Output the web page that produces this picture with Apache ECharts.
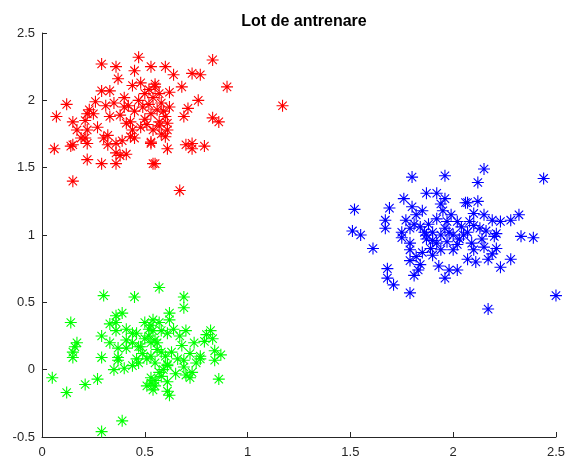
<!DOCTYPE html>
<html>
<head>
<meta charset="utf-8">
<script src="https://cdn.jsdelivr.net/npm/echarts@6/dist/echarts.min.js"></script>
<style>
  html, body { margin: 0; padding: 0; background: #fff; }
  #chart { width: 568px; height: 461px; }
</style>
</head>
<body>
<div id="chart"></div>
<script>
// Training set: three point clouds
const titleText = 'Lot de antrenare';

const xTicks = [0, 0.5, 1, 1.5, 2, 2.5];
const yTicks = [-0.5, 0, 0.5, 1, 1.5, 2, 2.5];

const redPoints = [
  [0.47,2.32],[0.29,2.27],[0.36,2.25],[0.53,2.25],[0.45,2.22],[0.83,2.30],[0.60,2.25],[0.64,2.19],
  [0.73,2.20],[0.77,2.19],[0.37,2.16],[0.44,2.11],[0.48,2.13],[0.68,2.10],[0.90,2.10],[0.29,2.07],
  [0.33,2.07],[0.12,1.97],[0.26,1.99],[0.31,1.96],[0.07,1.88],[0.23,1.93],[0.22,1.90],[0.15,1.84],
  [0.21,1.85],[0.40,1.95],[0.38,1.89],[0.43,1.84],[0.76,2.00],[0.71,1.94],[0.69,1.88],[0.59,1.92],
  [0.83,1.87],[0.86,1.84],[1.17,1.96],[0.61,1.83],[0.57,1.84],[0.17,1.78],[0.22,1.78],[0.22,1.68],
  [0.21,1.72],[0.06,1.64],[0.14,1.66],[0.15,1.67],[0.22,1.56],[0.29,1.53],[0.36,1.53],[0.15,1.40],
  [0.54,1.53],[0.32,1.74],[0.32,1.67],[0.36,1.68],[0.39,1.70],[0.36,1.61],[0.41,1.60],[0.38,1.59],
  [0.41,1.83],[0.44,1.78],[0.43,1.73],[0.45,1.72],[0.53,1.69],[0.53,1.68],[0.54,1.78],[0.60,1.73],
  [0.61,1.64],[0.70,1.67],[0.73,1.68],[0.73,1.64],[0.79,1.66],[0.55,1.53],[0.67,1.33],[0.57,1.81],
  [0.61,1.78],[0.50,2.05],[0.52,2.08],[0.54,2.02],[0.55,2.10],[0.57,2.05],[0.52,1.97],[0.49,1.95],
  [0.56,1.93],[0.58,1.98],[0.53,1.90],[0.50,1.86],[0.60,1.88],[0.47,2.00],[0.45,1.92],[0.62,1.95],
  [0.55,2.12],[0.51,1.82],[0.58,1.75],[0.48,1.80],[0.42,1.96],[0.40,2.02],[0.35,1.98],[0.33,1.88],
  [0.27,1.80],[0.19,1.72],[0.25,1.90],[0.30,1.72],[0.62,2.06]
];

const bluePoints = [
  [1.80,1.43],[1.96,1.44],[1.87,1.31],[1.92,1.31],[1.96,1.27],[1.76,1.27],[1.80,1.21],[1.85,1.18],
  [1.52,1.19],[1.69,1.20],[1.67,1.11],[1.67,1.05],[1.77,1.11],[1.82,1.15],[1.81,1.08],[1.84,1.06],
  [1.51,1.03],[1.55,1.00],[1.75,1.02],[1.79,1.05],[1.94,1.23],[1.95,1.18],[1.90,1.02],[1.87,1.00],
  [1.96,1.05],[2.15,1.49],[2.12,1.39],[2.44,1.42],[2.06,1.24],[2.07,1.24],[2.12,1.25],[2.10,1.16],
  [1.99,1.15],[2.15,1.15],[2.19,1.11],[2.23,1.10],[2.28,1.11],[2.32,1.15],[2.02,1.10],[2.04,1.06],
  [2.10,1.07],[2.13,1.05],[2.16,1.03],[2.21,1.01],[1.98,1.02],[2.33,0.99],[2.39,0.98],[2.07,1.02],
  [1.61,0.90],[1.75,0.98],[1.79,0.94],[1.79,0.89],[1.87,0.97],[1.92,0.94],[1.97,0.95],[1.85,0.87],
  [1.90,0.85],[1.94,0.89],[1.79,0.81],[1.68,0.75],[1.68,0.68],[1.71,0.63],[1.84,0.78],[1.83,0.74],
  [1.81,0.70],[1.93,0.77],[1.96,0.68],[1.79,0.57],[1.82,0.84],[1.89,0.90],[2.03,0.97],[2.09,0.94],
  [2.14,0.97],[2.20,0.99],[2.00,0.89],[2.10,0.89],[2.15,0.91],[2.21,0.90],[2.19,0.86],[2.07,0.82],
  [2.11,0.80],[2.17,0.82],[2.28,0.82],[2.23,0.76],[1.98,0.74],[2.02,0.74],[2.50,0.55],[2.17,0.45],
  [1.88,1.08],[1.92,1.12],[1.86,1.02],[2.00,1.00],[2.02,0.93],[1.94,1.00],[1.90,0.96],[2.05,1.00],
  [2.08,1.10],[1.97,1.10]
];

const greenPoints = [
  [0.30,0.55],[0.45,0.54],[0.14,0.35],[0.36,0.40],[0.39,0.42],[0.33,0.34],[0.36,0.35],[0.36,0.29],
  [0.41,0.30],[0.46,0.27],[0.29,0.25],[0.33,0.20],[0.17,0.20],[0.16,0.17],[0.15,0.13],[0.15,0.09],
  [0.37,0.16],[0.41,0.22],[0.41,0.16],[0.44,0.20],[0.47,0.17],[0.29,0.09],[0.37,0.09],[0.57,0.61],
  [0.69,0.54],[0.69,0.46],[0.62,0.42],[0.62,0.37],[0.54,0.37],[0.53,0.33],[0.54,0.29],[0.58,0.29],
  [0.64,0.30],[0.70,0.29],[0.82,0.29],[0.83,0.23],[0.74,0.20],[0.67,0.25],[0.61,0.27],[0.44,0.27],
  [0.50,0.23],[0.53,0.20],[0.56,0.20],[0.68,0.18],[0.48,0.17],[0.58,0.13],[0.63,0.13],[0.72,0.12],
  [0.77,0.10],[0.84,0.14],[0.87,0.11],[0.51,0.08],[0.37,0.07],[0.46,0.08],[0.55,0.05],[0.61,0.04],
  [0.69,0.07],[0.77,0.08],[0.84,0.07],[0.05,-0.06],[0.12,-0.17],[0.21,-0.11],[0.27,-0.07],[0.35,0.00],
  [0.40,0.01],[0.44,0.03],[0.53,-0.06],[0.51,-0.12],[0.54,-0.15],[0.55,-0.12],[0.57,-0.02],[0.59,0.00],
  [0.61,0.03],[0.61,-0.09],[0.61,-0.16],[0.62,-0.19],[0.65,-0.03],[0.69,0.02],[0.70,-0.04],[0.72,-0.06],
  [0.73,-0.02],[0.86,-0.07],[0.39,-0.38],[0.29,-0.46],[0.52,0.25],[0.55,0.22],[0.50,0.35],[0.52,0.30],
  [0.56,0.15],[0.53,0.10],[0.57,0.35],[0.49,0.12],[0.60,0.10],[0.47,0.05],[0.58,-0.05],[0.55,-0.08],
  [0.53,-0.10],[0.75,0.05],[0.66,0.08],[0.79,0.21],[0.80,0.26]
];

// eight-armed asterisk marker, drawn by stroke only
const asterisk = 'path://M0,-1L0,1M-1,0L1,0M-0.7,-0.7L0.7,0.7M-0.7,0.7L0.7,-0.7';

function cloud(name, data, color) {
  return {
    name: name,
    type: 'scatter',
    data: data,
    symbol: asterisk,
    symbolSize: 12,
    itemStyle: { color: color, borderColor: color, borderWidth: 1.1, opacity: 1 },
    emphasis: { disabled: true },
    animation: false
  };
}

const axisColor = '#262626';
const labelStyle = { color: axisColor, fontSize: 13, fontFamily: 'Liberation Sans, Arial, sans-serif' };

const chart = echarts.init(document.getElementById('chart'), null, { renderer: 'canvas' });
chart.setOption({
  animation: false,
  backgroundColor: '#ffffff',
  title: {
    text: titleText,
    left: 299,
    textAlign: 'center',
    top: 9,
    textStyle: { fontSize: 16, fontWeight: 'bold', color: '#000', fontFamily: 'Liberation Sans, Arial, sans-serif' }
  },
  grid: { left: 42, right: 12, top: 33, bottom: 24, containLabel: false },
  xAxis: {
    type: 'value',
    min: xTicks[0],
    max: xTicks[xTicks.length - 1],
    interval: xTicks[1] - xTicks[0],
    axisLine: { show: true, onZero: false, lineStyle: { color: axisColor, width: 1 } },
    axisTick: { show: true, inside: true, length: 5, lineStyle: { color: axisColor } },
    splitLine: { show: false },
    axisLabel: Object.assign({ margin: 9 }, labelStyle)
  },
  yAxis: {
    type: 'value',
    min: yTicks[0],
    max: yTicks[yTicks.length - 1],
    interval: yTicks[1] - yTicks[0],
    axisLine: { show: true, onZero: false, lineStyle: { color: axisColor, width: 1 } },
    axisTick: { show: true, inside: true, length: 5, lineStyle: { color: axisColor } },
    splitLine: { show: false },
    axisLabel: Object.assign({ margin: 7 }, labelStyle)
  },
  series: [
    cloud('red', redPoints, '#ff0000'),
    cloud('blue', bluePoints, '#0000ff'),
    cloud('green', greenPoints, '#00ff00')
  ]
});
</script>
</body>
</html>
